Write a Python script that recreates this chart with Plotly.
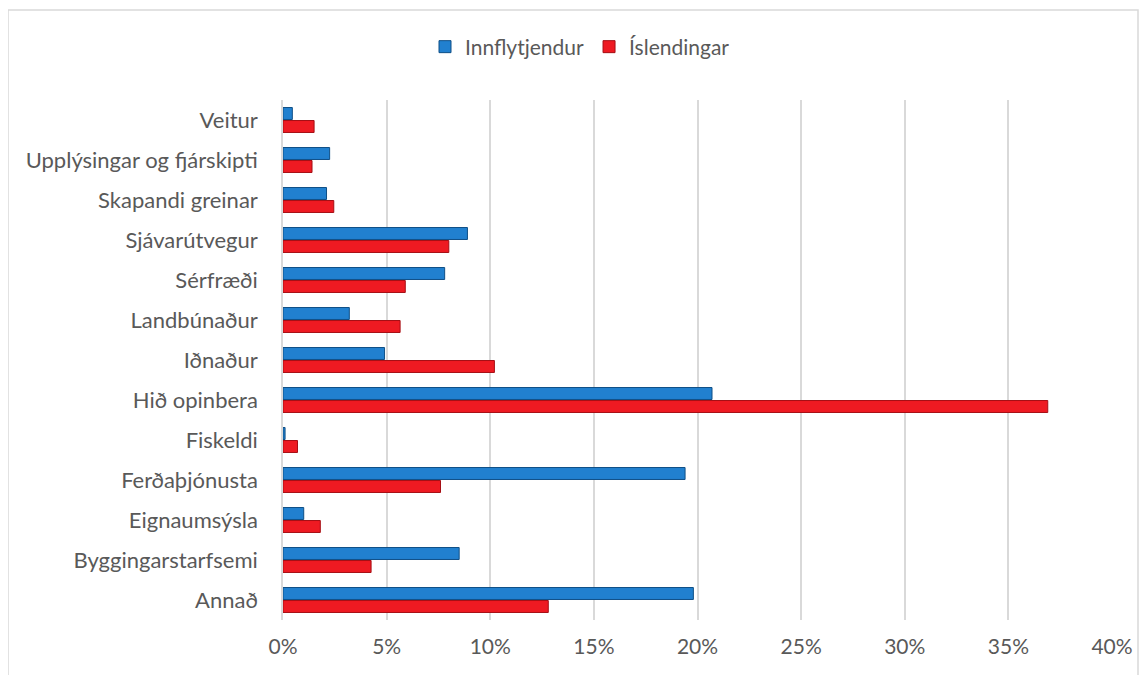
import plotly.graph_objects as go

# Categories from bottom to top
categories = ["Annað", "Byggingarstarfsemi", "Eignaumsýsla", "Ferðaþjónusta",
              "Fiskeldi", "Hið opinbera", "Iðnaður", "Landbúnaður", "Sérfræði",
              "Sjávarútvegur", "Skapandi greinar", "Upplýsingar og fjárskipti",
              "Veitur"]

# Share of each group (%)
innflytjendur = [19.8, 8.5, 1.0, 19.4, 0.1, 20.7, 4.9, 3.2, 7.8, 8.9, 2.1, 2.25, 0.45]
islendingar = [12.8, 4.25, 1.8, 7.6, 0.7, 36.9, 10.2, 5.65, 5.9, 8.0, 2.45, 1.4, 1.5]

x_ticks = [0, 5, 10, 15, 20, 25, 30, 35, 40]
x_tick_labels = ["0%", "5%", "10%", "15%", "20%", "25%", "30%", "35%", "40%"]

text_color = "#595959"
font_family = "Lato, 'Open Sans', sans-serif"

fig = go.Figure()

# red first so blue sits on top within each category
fig.add_trace(go.Bar(
    y=categories, x=islendingar, name="Íslendingar", orientation="h",
    marker=dict(color="#EE1A22", line=dict(color="#A50E14", width=1)),
    legendrank=2,
))
fig.add_trace(go.Bar(
    y=categories, x=innflytjendur, name="Innflytjendur", orientation="h",
    marker=dict(color="#2180CF", line=dict(color="#0F4F86", width=1)),
    legendrank=1,
))

# page body adds an 8px margin, so the figure is a bit smaller than the window
W, H = 1139, 667
ml, mr, mt, mb = 275, 35, 92, 55
pw, ph = W - ml - mr, H - mt - mb

# outer chart border
fig.add_shape(type="rect", xref="paper", yref="paper",
              x0=(0 - ml) / pw, x1=(1130 - ml) / pw,
              y0=(mt + ph - 690) / ph, y1=(mt + ph - 2) / ph,
              line=dict(color="#D9D9D9", width=1.5), layer="below")

fig.update_layout(
    width=W, height=H,
    margin=dict(l=ml, r=mr, t=mt, b=mb, autoexpand=False),
    paper_bgcolor="white", plot_bgcolor="white",
    barmode="group", bargap=0.35, bargroupgap=0.08,
    font=dict(family=font_family, size=21, color=text_color),
    showlegend=True,
    legend=dict(orientation="h", x=(572 - ml) / pw, xanchor="center",
                y=1.0 + 53 / ph, yanchor="middle",
                font=dict(size=21, color=text_color),
                itemwidth=30, traceorder="normal"),
)

fig.update_xaxes(
    range=[0, 40], tickmode="array", tickvals=x_ticks, ticktext=x_tick_labels,
    tickfont=dict(size=21),
    showgrid=True, gridcolor="#D9D9D9", gridwidth=1.5,
    zeroline=False, showline=False, automargin=False,
    ticklabelstandoff=12, fixedrange=True,
)
fig.update_yaxes(
    categoryorder="array", categoryarray=categories,
    tickfont=dict(size=22),
    showline=True, linecolor="#D9D9D9", linewidth=1.5,
    showgrid=False, ticklabelstandoff=19, automargin=False,
)

fig.write_html("out.html")
